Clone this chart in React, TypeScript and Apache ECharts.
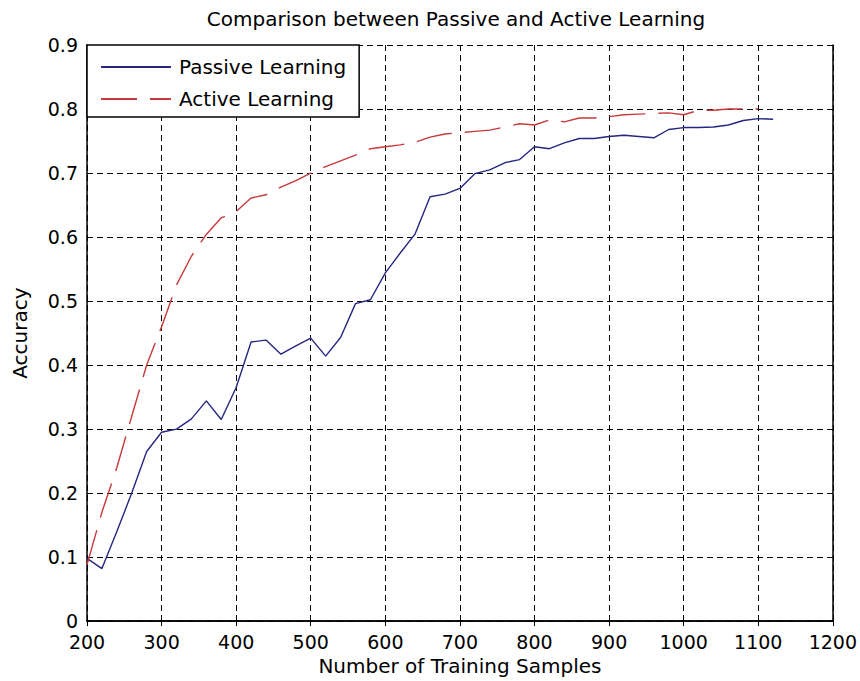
import React, { useEffect, useRef } from "react";
import * as echarts from "echarts";

const xTicks = [200, 300, 400, 500, 600, 700, 800, 900, 1000, 1100, 1200];
const yTicks = [0, 0.1, 0.2, 0.3, 0.4, 0.5, 0.6, 0.7, 0.8, 0.9];

const passiveSamples = [
  200, 220, 240, 260, 280, 300, 320, 340, 360, 380, 400, 420, 440, 460, 480, 500,
  520, 540, 560, 580, 600, 620, 640, 660, 680, 700, 720, 740, 760, 780, 800, 820,
  840, 860, 880, 900, 920, 940, 960, 980, 1000, 1020, 1040, 1060, 1080, 1100, 1120,
];
const passiveAccuracy = [
  0.098, 0.082, 0.14, 0.2, 0.265, 0.295, 0.3, 0.316, 0.344, 0.315, 0.365, 0.436,
  0.439, 0.417, 0.43, 0.442, 0.414, 0.443, 0.496, 0.502, 0.544, 0.575, 0.605, 0.663,
  0.667, 0.676, 0.699, 0.705, 0.716, 0.721, 0.741, 0.738, 0.747, 0.754, 0.754, 0.757,
  0.759, 0.757, 0.755, 0.768, 0.771, 0.771, 0.772, 0.775, 0.782, 0.785, 0.784,
];

const activeSamples = [
  200, 220, 240, 260, 280, 300, 320, 340, 360, 380, 400, 420, 440, 460, 480, 500,
  520, 540, 560, 580, 600, 620, 640, 660, 680, 700, 720, 740, 760, 780, 800, 820,
  840, 860, 880, 900, 920, 940, 960, 980, 1000, 1020, 1040, 1060, 1080, 1100,
];
const activeAccuracy = [
  0.088, 0.17, 0.24, 0.32, 0.4, 0.46, 0.525, 0.57, 0.604, 0.63, 0.64, 0.661, 0.666,
  0.678, 0.688, 0.7, 0.71, 0.719, 0.728, 0.738, 0.741, 0.744, 0.748, 0.756, 0.761,
  0.763, 0.765, 0.767, 0.772, 0.777, 0.775, 0.783, 0.78, 0.786, 0.786, 0.788, 0.791,
  0.792, 0.793, 0.794, 0.791, 0.798, 0.798, 0.8, 0.8, 0.8,
];

const FONT = "DejaVu Sans";

export default function App() {
  const ref = useRef<HTMLDivElement>(null);
  useEffect(() => {
    if (!ref.current) return;
    const chart = echarts.init(ref.current, null, { renderer: "svg" });
    const xMin = xTicks[0];
    const xMax = xTicks[xTicks.length - 1];
    const xInt = xTicks[1] - xTicks[0];
    const yMin = yTicks[0];
    const yMax = yTicks[yTicks.length - 1];
    const yInt = 0.1;
    const fmtY = (v: number) => String(Math.round(v * 10) / 10);
    const fmtX = (v: number) => String(Math.round(v));
    const axisLine = { show: true, lineStyle: { color: "#000", width: 1.5 } };
    const tick = { show: true, inside: true, length: 5, lineStyle: { color: "#000" } };
    const split = { show: true, lineStyle: { color: "#000", width: 1, type: [6, 4] as any } };
    chart.setOption({
      animation: false,
      backgroundColor: "#fff",
      grid: { left: 87, right: 23, top: 45, bottom: 58, containLabel: false },
      graphic: [
        {
          type: "text",
          x: 456,
          y: 19,
          style: {
            text: "Comparison between Passive and Active Learning",
            fontFamily: FONT,
            fontSize: 20,
            fill: "#000",
            align: "center",
            verticalAlign: "middle",
          },
        },
      ],
      legend: {
        orient: "vertical",
        left: 87,
        top: 45,
        data: ["Passive Learning", "Active Learning"],
        backgroundColor: "#fff",
        borderColor: "#000",
        borderWidth: 1.5,
        borderRadius: 0,
        padding: [12, 13, 8, 13],
        itemWidth: 70,
        itemHeight: 14,
        itemGap: 12,
        itemStyle: { opacity: 0, borderWidth: 0 },
        textStyle: { fontFamily: FONT, fontSize: 20, color: "#000", lineHeight: 20, padding: [0, 0, 0, 3] },
        z: 10,
      },
      xAxis: [
        {
          type: "value",
          min: xMin,
          max: xMax,
          interval: xInt,
          name: "Number of Training Samples",
          nameLocation: "middle",
          nameGap: 30,
          nameTextStyle: { fontFamily: FONT, fontSize: 20, color: "#000" },
          axisLine,
          axisTick: tick,
          axisLabel: { fontFamily: FONT, fontSize: 19, lineHeight: 15, color: "#000", margin: 13, formatter: fmtX },
          splitLine: split,
        },
        {
          type: "value",
          position: "top",
          min: xMin,
          max: xMax,
          interval: xInt,
          axisLine,
          axisTick: tick,
          axisLabel: { show: false },
          splitLine: { show: false },
        },
      ],
      yAxis: [
        {
          type: "value",
          min: yMin,
          max: yMax,
          interval: yInt,
          name: "Accuracy",
          nameLocation: "middle",
          nameGap: 57,
          nameTextStyle: { fontFamily: FONT, fontSize: 20, color: "#000" },
          axisLine,
          axisTick: tick,
          axisLabel: { fontFamily: FONT, fontSize: 19, lineHeight: 15, color: "#000", margin: 9, formatter: fmtY },
          splitLine: split,
        },
        {
          type: "value",
          position: "right",
          min: yMin,
          max: yMax,
          interval: yInt,
          axisLine,
          axisTick: tick,
          axisLabel: { show: false },
          splitLine: { show: false },
        },
      ],
      series: [
        {
          name: "Passive Learning",
          type: "line",
          xAxisIndex: 0,
          yAxisIndex: 0,
          data: passiveSamples.map((x, i) => [x, passiveAccuracy[i]]),
          symbol: "none",
          showSymbol: false,
          color: "#262680",
          lineStyle: { color: "#262680", width: 1.4, type: "solid" },
          z: 3,
        },
        {
          name: "Active Learning",
          type: "line",
          xAxisIndex: 0,
          yAxisIndex: 0,
          data: activeSamples.map((x, i) => [x, activeAccuracy[i]]),
          symbol: "none",
          showSymbol: false,
          color: "#c83a3a",
          lineStyle: { color: "#c83a3a", width: 1.4, type: [36, 13] },
          z: 3,
        },
      ],
    });
    return () => chart.dispose();
  }, []);
  return (
    <div
      ref={ref}
      style={{ position: "absolute", left: 0, top: 0, width: 860, height: 681 }}
    />
  );
}
